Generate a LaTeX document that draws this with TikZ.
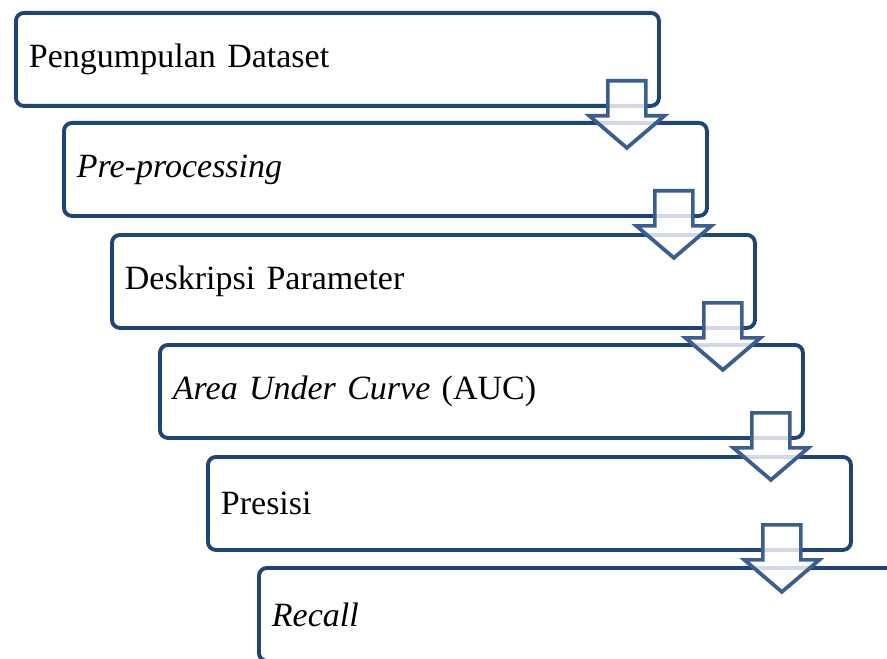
\documentclass[tikz,border=0pt]{standalone}
\usepackage{fontspec}
\setmainfont{Liberation Serif}
\usetikzlibrary{calc}
\definecolor{boxblue}{RGB}{31,68,120}
\definecolor{arrowblue}{RGB}{58,94,143}
\def\px{0.75pt}
\begin{document}
\begin{tikzpicture}[x=\px,y=-\px]
 \clip (0,0) rectangle (887,659);
          \begin{scope}[every node/.style={draw=boxblue, line width=2.9pt, fill=white, rounded corners=6pt, anchor=north west, minimum width=643*\px, minimum height=93*\px, text width=617*\px, inner xsep=13*\px, align=left, font=\fontsize{25.5}{30}\selectfont}]
          \node (1) at (14,11) {Pengumpulan Dataset};
          \node (2) at (62,121) {\textit{Pre-processing}};
          \node (3) at (110,233) {Deskripsi Parameter};
          \node (4) at (158,343) {\textit{Area Under Curve} (AUC)};
          \node (5) at (206,455) {Presisi};
          \node (6) at (257,566) {\textit{Recall}};
          \end{scope}
          \foreach \i/\dx in {1/34,2/35,3/34,4/34,5/71}
          \draw[draw=arrowblue, line width=2.8pt, fill=white, fill opacity=0.8]
            ($(\i.south east)+(-\dx-19,-27)$) -- ++(38,0) -- ++(0,35) -- ++(18.5,0)
            -- ++(-37.5,32) -- ++(-37.5,-32) -- ++(18.5,0) -- cycle;
          \end{tikzpicture}
\end{document}
